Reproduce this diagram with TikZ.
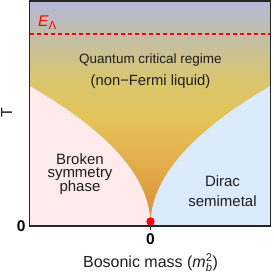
\documentclass[tikz,border=0pt]{standalone}
\usepackage{fontspec}
\setmainfont{Liberation Sans}
\usepackage{amsmath}
\definecolor{cA}{RGB}{220,135,60}
\definecolor{cB}{RGB}{221,143,62}
\definecolor{cC}{RGB}{226,170,72}
\definecolor{cD}{RGB}{228,195,88}
\definecolor{cE}{RGB}{218,198,110}
\definecolor{cF}{RGB}{192,190,170}
\definecolor{cG}{RGB}{181,185,219}
\definecolor{pinkc}{RGB}{253,235,235}
\definecolor{bluec}{RGB}{220,235,252}
\definecolor{txt}{RGB}{30,30,30}
\pgfdeclareverticalshading{qcshade}{100bp}{color(0bp)=(cA); color(25bp)=(cA); color(27.4bp)=(cB); color(37.4bp)=(cC); color(48.6bp)=(cD); color(57.4bp)=(cE); color(67.7bp)=(cF); color(75bp)=(cG); color(100bp)=(cG)}
\tikzset{
  lbl/.style={anchor=base, inner sep=0pt, text=txt, font=\fontsize{15}{18}\selectfont},
  zerolbl/.style={anchor=base, inner sep=0pt, text=black, font=\bfseries\fontsize{15.5}{18}\selectfont},
}
\begin{document}
\begin{tikzpicture}[x=1pt,y=-1pt]
\useasboundingbox (0,0) rectangle (273,273);
\coordinate (tl) at (29.5,1);
\coordinate (br) at (270.5,226);
\coordinate (cusp) at (150.5,225);
\coordinate (lend) at (29.5,86);
\coordinate (rend) at (270.5,86);
\shade[shading=qcshade] (tl) rectangle (br);
\fill[pinkc] (cusp) .. controls (150.5,178.67) and (110.17,132.33) .. (lend) |- (150.5,226) -- cycle;
\fill[bluec] (cusp) .. controls (150.5,178.67) and (190.83,132.33) .. (rend) |- (150.5,226) -- cycle;
\coordinate (dl) at (29.5,34);
\coordinate (dr) at (270.5,34);
\draw[red, line width=1.2pt, dash pattern=on 4pt off 3pt] (dl) -- (dr);
\draw[line width=1.5pt, black!85] (tl) rectangle (br);
\coordinate (tick0) at (150.5,226);
\coordinate (tick1) at (150.5,229.5);
\draw[line width=1.3pt, black!85] (tick0) -- (tick1);
\fill[red] (150.5,221.5) circle[radius=4.2pt];
% labels
\node[anchor=base west, inner sep=0pt, text=red] (el) at (38,26) {\fontsize{15.5}{18}\selectfont\textit{E}\raisebox{-3.3pt}{\fontsize{11.5}{12}\selectfont Λ}};
\node[lbl, font=\fontsize{13.5}{16}\selectfont] (q1) at (150.5,63.3) {Quantum critical regime};
\node[lbl, font=\fontsize{14.8}{16}\selectfont] (q2) at (150.5,85) {(non−Fermi liquid)};
\node[lbl] (b1) at (80,164.3) {Broken};
\node[lbl] (b2) at (80,177.8) {symmetry};
\node[lbl] (b3) at (80,191.3) {phase};
\node[lbl] (d1) at (222.5,186.7) {Dirac};
\node[lbl] (d2) at (222.5,206.7) {semimetal};
\node[zerolbl] (z1) at (21.3,231.7) {0};
\node[zerolbl] (z2) at (150.5,244.3) {0};
\node[lbl, font=\fontsize{16}{19}\selectfont] (xl) at (150.5,267.3) {Bosonic mass ($\textit{m}^{\text{2}}_{\textit{b}}$)};
\node[rotate=90, inner sep=0pt, text=txt, font=\fontsize{16}{18}\selectfont] (tlab) at (6.6,113) {T};
\end{tikzpicture}
\end{document}
